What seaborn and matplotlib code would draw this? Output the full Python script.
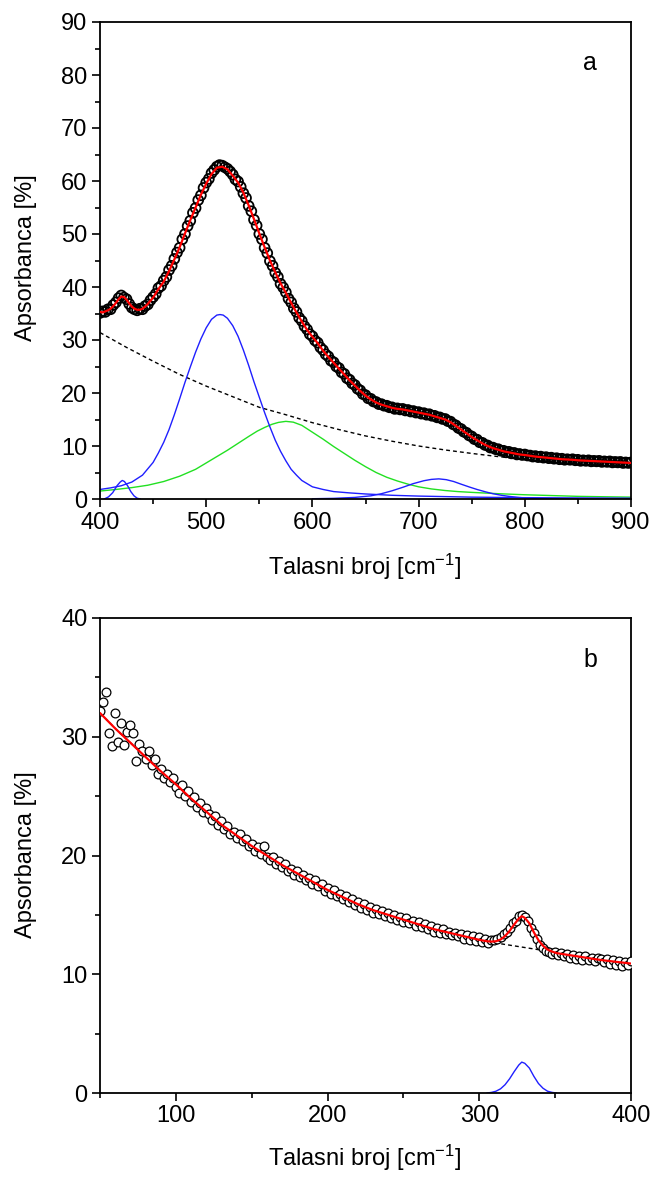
import numpy as np
import pandas as pd
import matplotlib
matplotlib.use("Agg")
import matplotlib.pyplot as plt
from matplotlib.ticker import MultipleLocator
import seaborn as sns

sns.set_style("ticks")
plt.rcParams['font.family'] = ['Liberation Sans', 'DejaVu Sans']
plt.rcParams['mathtext.fontset'] = 'custom'
plt.rcParams['mathtext.rm'] = 'Liberation Sans'
plt.rcParams['mathtext.it'] = 'Liberation Sans:italic'
plt.rcParams['text.color'] = 'black'
plt.rcParams['axes.labelcolor'] = 'black'
plt.rcParams['xtick.color'] = 'black'
plt.rcParams['ytick.color'] = 'black'

# ---------------- Panel a data ----------------
a_wavenumber = np.arange(400, 900.1, 2.5)
a_absorbance = [
    35.1, 35.4, 35.3, 35.8, 35.8, 36.6, 37.1, 37.9, 38.4, 38.0,
    37.7, 36.8, 36.1, 35.8, 35.6, 35.9, 35.8, 36.4, 36.7, 37.5,
    38.1, 38.7, 39.8, 40.2, 41.2, 41.9, 43.2, 44.0, 45.3, 46.5,
    47.4, 49.0, 50.0, 51.5, 52.5, 54.0, 54.9, 56.4, 57.3, 58.7,
    59.7, 60.4, 61.5, 62.1, 62.7, 63.0, 62.9, 62.6, 62.3, 61.8,
    61.2, 60.3, 59.9, 58.9, 57.7, 56.8, 55.3, 54.3, 52.7, 51.6,
    50.0, 49.0, 47.4, 46.4, 44.9, 44.0, 42.7, 41.9, 40.6, 39.9,
    39.0, 37.8, 37.1, 36.0, 35.3, 34.2, 33.6, 32.6, 32.0, 31.1,
    30.7, 29.9, 29.5, 28.6, 28.1, 27.3, 26.9, 26.1, 25.8, 25.0,
    24.7, 23.9, 23.6, 22.8, 22.5, 21.8, 21.5, 20.8, 20.5, 19.8,
    19.6, 19.0, 18.9, 18.4, 18.3, 17.9, 17.9, 17.6, 17.6, 17.3,
    17.3, 17.0, 17.1, 16.9, 17.0, 16.7, 16.8, 16.5, 16.6, 16.3,
    16.4, 16.1, 16.2, 15.9, 16.0, 15.7, 15.7, 15.4, 15.4, 15.1,
    15.1, 14.7, 14.6, 14.1, 13.9, 13.4, 13.2, 12.7, 12.5, 12.0,
    11.8, 11.3, 11.2, 10.7, 10.6, 10.2, 10.1, 9.7, 9.7, 9.4,
    9.4, 9.1, 9.1, 8.8, 8.9, 8.6, 8.7, 8.4, 8.5, 8.3,
    8.4, 8.2, 8.2, 8.0, 8.1, 7.9, 8.0, 7.8, 7.9, 7.7,
    7.8, 7.6, 7.7, 7.5, 7.6, 7.4, 7.5, 7.4, 7.5, 7.3,
    7.4, 7.2, 7.3, 7.2, 7.3, 7.1, 7.2, 7.1, 7.2, 7.0,
    7.1, 7.0, 7.1, 6.9, 7.0, 6.9, 7.0, 6.8, 6.9, 6.8,
    6.9,
]
a_fit_wavenumber = np.concatenate([np.arange(400, 460.1, 2.5), np.arange(465, 900.1, 5)])
a_fit = [
    35.3, 35.2, 35.4, 35.6, 35.9, 36.4, 37.0, 37.7, 38.2, 38.1,
    37.6, 36.9, 36.3, 35.9, 35.7, 35.7, 35.9, 36.3, 36.8, 37.4,
    38.0, 38.8, 39.6, 40.3, 41.0,
    43.0, 45.2, 47.5, 50.1, 52.6, 55.0, 57.4, 59.5, 61.3, 62.5,
    62.7, 62.2, 61.0, 59.7, 57.8, 55.4, 52.8, 50.1, 47.5, 45.0,
    42.8, 40.7, 38.9, 37.0, 35.2, 33.5, 31.9, 30.6, 29.4, 28.0,
    26.8, 25.7, 24.6, 23.5, 22.4, 21.4, 20.4, 19.5, 18.8, 18.2,
    17.8, 17.5, 17.2, 17.0, 16.9, 16.7, 16.5, 16.3, 16.1, 15.9,
    15.6, 15.3, 15.0, 14.5, 13.8, 13.1, 12.4, 11.7, 11.1, 10.5,
    10.0, 9.6, 9.3, 9.0, 8.8, 8.6, 8.4, 8.3, 8.15, 8.0,
    7.9, 7.8, 7.7, 7.6, 7.5, 7.45, 7.4, 7.3, 7.25, 7.2,
    7.15, 7.1, 7.05, 7.0, 6.95, 6.9, 6.85, 6.8,
]
a_base_wavenumber = [400, 425, 450, 475, 500, 525, 550, 575, 600, 625, 650,
                     675, 700, 725, 750, 775, 800, 825, 850, 875, 900]
a_baseline = [31.4, 28.6, 26.0, 23.5, 21.3, 19.3, 17.3, 15.9, 14.4, 13.1, 11.9,
              10.9, 10.0, 9.25, 8.6, 8.0, 7.5, 7.1, 6.75, 6.45, 6.2]
a_peak513_wavenumber = [400, 410, 420, 430, 440, 450, 455, 460, 465, 470, 475, 480,
                        485, 490, 495, 500, 505, 510, 513, 516, 520, 525, 530, 535,
                        540, 545, 550, 555, 560, 565, 570, 575, 580, 585, 590, 595,
                        600, 610, 620, 635, 650, 675, 700, 750, 800, 850, 900]
a_peak513 = [1.8, 2.1, 2.5, 3.2, 4.5, 6.9, 8.7, 10.7, 13.1, 15.9, 18.9, 22.0,
             24.9, 27.7, 30.2, 32.3, 33.9, 34.7, 34.8, 34.7, 34.1, 32.7, 30.7, 28.1,
             25.2, 22.1, 19.2, 16.3, 13.6, 11.1, 9.0, 7.2, 5.6, 4.5, 3.5, 2.9,
             2.3, 1.8, 1.4, 1.15, 0.95, 0.7, 0.55, 0.35, 0.25, 0.2, 0.15]
a_peak421_wavenumber = [404, 408, 412, 416, 419, 421, 423, 426, 429, 432, 435, 438]
a_peak421 = [0.0, 0.4, 1.2, 2.5, 3.2, 3.5, 3.3, 2.5, 1.4, 0.6, 0.15, 0.0]
a_peak719_wavenumber = [600, 620, 640, 655, 665, 675, 685, 695, 705, 712, 719, 726,
                        733, 740, 748, 755, 763, 770, 778, 785, 793, 800, 815, 830, 850]
a_peak719 = [0.05, 0.12, 0.3, 0.6, 1.0, 1.55, 2.2, 2.9, 3.45, 3.7, 3.8, 3.65,
             3.3, 2.8, 2.25, 1.8, 1.35, 1.0, 0.7, 0.5, 0.32, 0.2, 0.08, 0.02, 0.0]
a_peak575_wavenumber = [400, 415, 430, 445, 460, 475, 490, 500, 510, 520, 530, 540,
                        548, 555, 562, 568, 575, 582, 590, 600, 610, 620, 630, 640,
                        650, 660, 670, 680, 690, 700, 712, 725, 737, 750, 775, 800,
                        825, 850, 875, 900]
a_peak575 = [1.5, 1.8, 2.15, 2.6, 3.3, 4.3, 5.6, 6.8, 8.0, 9.2, 10.5, 11.8,
             12.8, 13.5, 14.1, 14.45, 14.65, 14.5, 13.9, 12.6, 11.3, 9.9, 8.6, 7.3,
             6.1, 5.0, 4.1, 3.4, 2.8, 2.3, 1.9, 1.6, 1.4, 1.25, 1.0, 0.8,
             0.65, 0.5, 0.42, 0.35]

# ---------------- Panel b data ----------------
b_wavenumber = np.arange(50, 400.1, 2)
b_absorbance = [
    32.2, 32.9, 33.8, 30.3, 29.2, 32.0, 29.6, 31.2, 29.3, 30.4,
    31.0, 30.3, 28.0, 29.4, 28.8, 28.1, 28.8, 27.6, 28.1, 26.9,
    27.3, 26.5, 26.9, 26.2, 26.5, 25.8, 25.3, 25.9, 25.0, 25.4,
    24.5, 24.9, 24.1, 24.4, 23.7, 24.0, 23.5, 23.0, 23.3, 22.6,
    22.9, 22.2, 22.5, 21.8, 22.0, 21.5, 21.8, 21.2, 21.4, 20.8,
    21.0, 20.4, 20.7, 20.1, 20.8, 19.9, 19.6, 19.9, 19.3, 19.5,
    19.0, 19.3, 18.7, 18.9, 18.4, 18.7, 18.2, 18.4, 17.9, 18.1,
    17.6, 17.9, 17.4, 17.6, 17.0, 17.3, 16.8, 17.1, 16.6, 16.8,
    16.3, 16.6, 16.1, 16.3, 15.8, 16.1, 15.6, 15.9, 15.4, 15.7,
    15.2, 15.5, 15.1, 15.3, 14.9, 15.2, 14.7, 15.0, 14.6, 14.8,
    14.4, 14.7, 14.3, 14.5, 14.1, 14.4, 14.0, 14.2, 13.8, 14.1,
    13.6, 13.9, 13.5, 13.8, 13.4, 13.6, 13.3, 13.5, 13.2, 13.4,
    13.0, 13.3, 12.9, 13.2, 12.8, 13.1, 12.7, 13.0, 12.6, 12.9,
    12.9, 13.0, 13.1, 13.4, 13.6, 13.9, 14.3, 14.5, 14.9, 15.0,
    14.8, 14.5, 13.9, 13.5, 13.0, 12.5, 12.2, 12.0, 11.9, 11.7,
    11.9, 11.6, 11.8, 11.5, 11.7, 11.4, 11.6, 11.3, 11.5, 11.2,
    11.5, 11.2, 11.4, 11.1, 11.4, 11.3, 11.0, 11.3, 10.9, 11.2,
    10.8, 11.1, 10.7, 11.0, 10.8, 11.1,
]
b_fit_wavenumber = [50, 60, 70, 80, 90, 100, 110, 120, 130, 140, 150, 160, 170, 180,
                    190, 200, 210, 220, 230, 240, 250, 260, 270, 280, 290, 300,
                    305, 308, 311, 314, 317, 320, 323, 326, 328, 330, 333, 336, 339,
                    342, 345, 348, 351, 360, 370, 380, 390, 400]
b_fit = [32.0, 30.7, 29.5, 28.3, 27.1, 26.0, 24.8, 23.7, 22.6, 21.7, 20.8, 20.0, 19.2,
         18.5, 17.8, 17.1, 16.5, 15.9, 15.4, 15.0, 14.6, 14.2, 13.8, 13.5, 13.2, 12.9,
         12.78, 12.75, 12.78, 12.92, 13.21, 13.65, 14.19, 14.68, 14.89, 14.75, 14.29,
         13.53, 12.87, 12.4, 12.08, 11.91, 11.78, 11.6, 11.4, 11.2, 11.05, 10.9]
b_base_wavenumber = [50, 60, 70, 80, 90, 100, 110, 120, 130, 140, 150, 160, 170, 180,
                     190, 200, 210, 220, 230, 240, 250, 260, 270, 280, 290, 300,
                     310, 320, 330, 340, 350, 360, 370, 380, 390, 400]
b_baseline = [32.0, 30.7, 29.5, 28.3, 27.1, 26.0, 24.8, 23.7, 22.6, 21.7, 20.8, 20.0,
              19.2, 18.5, 17.8, 17.1, 16.5, 15.9, 15.4, 15.0, 14.6, 14.2, 13.8, 13.5,
              13.2, 12.9, 12.65, 12.45, 12.25, 12.05, 11.8, 11.6, 11.4, 11.2, 11.05, 10.9]
b_peak_wavenumber = [305, 308, 311, 314, 317, 320, 323, 326, 328, 330, 333, 336, 339,
                     342, 345, 348, 351]
b_peak = [0.0, 0.05, 0.15, 0.35, 0.7, 1.2, 1.8, 2.35, 2.6, 2.5, 2.1, 1.4, 0.8,
          0.4, 0.15, 0.05, 0.0]

# ---------------- styling ----------------
FS = 17
W, H = 652, 1177
fig = plt.figure(figsize=(W / 100, H / 100), dpi=100)
ax_a = fig.add_axes([100 / W, 1 - 499 / H, 531 / W, 477 / H])
ax_b = fig.add_axes([100 / W, 1 - 1093 / H, 531 / W, 475 / H])

BLUE = '#1f1fff'
GREEN = '#22e022'
RED = '#ff0000'
dash = (0, (2.8, 2.2))


def line(ax, x, y, color, lw, ls='-', z=2):
    sns.lineplot(x=np.asarray(x, float), y=np.asarray(y, float), ax=ax, color=color,
                 linewidth=lw, linestyle=ls, sort=False, estimator=None, zorder=z)


# Panel a
line(ax_a, a_base_wavenumber, a_baseline, 'black', 1.0, dash, 2)
line(ax_a, a_peak575_wavenumber, a_peak575, GREEN, 1.0, '-', 2)
line(ax_a, a_peak513_wavenumber, a_peak513, BLUE, 1.0, '-', 2)
line(ax_a, a_peak421_wavenumber, a_peak421, BLUE, 1.0, '-', 2)
line(ax_a, a_peak719_wavenumber, a_peak719, BLUE, 1.0, '-', 2)
sns.scatterplot(x=a_wavenumber, y=a_absorbance, ax=ax_a, marker='o', s=50,
                color='white', edgecolor='black', linewidth=1.3, zorder=3, legend=False)
ax_a.collections[-1].set_facecolor('none')
line(ax_a, a_fit_wavenumber, a_fit, RED, 1.6, '-', 4)

# Panel b
line(ax_b, b_base_wavenumber, b_baseline, 'black', 1.0, dash, 2)
line(ax_b, b_peak_wavenumber, b_peak, BLUE, 1.0, '-', 2)
sns.scatterplot(x=b_wavenumber, y=b_absorbance, ax=ax_b, marker='o', s=40,
                color='white', edgecolor='black', linewidth=0.9, zorder=3, legend=False)
line(ax_b, b_fit_wavenumber, b_fit, RED, 1.6, '-', 4)

for ax, xl, yl, xmaj, ymaj in [(ax_a, (400, 900), (0, 90), 100, 10),
                               (ax_b, (50, 400), (0, 40), 100, 10)]:
    ax.set_xlim(*xl)
    ax.set_ylim(*yl)
    ax.xaxis.set_major_locator(MultipleLocator(xmaj))
    ax.xaxis.set_minor_locator(MultipleLocator(xmaj / 2))
    ax.yaxis.set_major_locator(MultipleLocator(ymaj))
    ax.yaxis.set_minor_locator(MultipleLocator(ymaj / 2))
    ax.tick_params(which='both', direction='out', top=False, right=False,
                   width=1.2, colors='black', labelsize=FS)
    ax.tick_params(which='major', length=6, pad=3)
    ax.tick_params(which='minor', length=3.5)
    for sp in ax.spines.values():
        sp.set_linewidth(1.3)
        sp.set_color('black')
        sp.set_visible(True)
    ax.set_xlabel('')
    ax.set_ylabel('')
    ax.set_facecolor('white')

ax_a.text(0.923, 0.914, 'a', transform=ax_a.transAxes, fontsize=FS + 1,
          ha='center', va='center', color='black')
ax_b.text(0.923, 0.912, 'b', transform=ax_b.transAxes, fontsize=FS + 1,
          ha='center', va='center', color='black')

for yc in (258, 855):
    fig.text(26 / W, 1 - yc / H, 'Apsorbanca [%]', rotation=90, ha='center',
             va='center', fontsize=FS, color='black')
for yc in (567, 1158):
    fig.text(365 / W, 1 - yc / H, 'Talasni broj [cm$^{-1}$]', ha='center',
             va='center', fontsize=FS, color='black')

fig.savefig('out.png', dpi=100, facecolor='white')
